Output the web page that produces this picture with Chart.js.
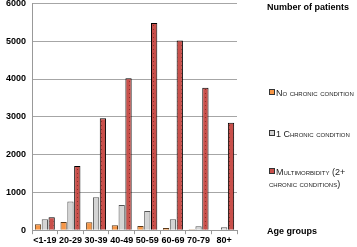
<!DOCTYPE html>
<html>
<head>
<meta charset="utf-8">
<script src="https://cdn.jsdelivr.net/npm/chart.js@4"></script>
<style>
  body { margin: 0; background: #fff; }
  #wrap { position: relative; width: 357px; height: 247px; overflow: hidden; font-family: Arial, "Liberation Sans", sans-serif; }
  #chart { position: absolute; left: 0; top: -8px; }
  .ttl { position: absolute; left: 267px; font-weight: bold; font-size: 9px; color: #000; }
  .leg { position: absolute; left: 269px; font-size: 9px; font-variant: small-caps; color: #222; line-height: 12px; width: 88px; }
  .leg span.sw { display: inline-block; width: 4px; height: 4px; border: 1px solid #333; margin-right: 1px; vertical-align: 1px; }
</style>
</head>
<body>
<div id="wrap">
  <canvas id="chart" width="357" height="255"></canvas>
  <div class="ttl" style="top:2px">Number of patients</div>
  <div class="ttl" style="top:226px">Age groups</div>
  <div id="legend"></div>
</div>
<script>
// age groups and patient counts
const ageGroups = ['<1-19', '20-29', '30-39', '40-49', '50-59', '60-69', '70-79', '80+'];
const noChronic = [160, 220, 210, 130, 110, 55, 25, 10];
const oneChronic = [290, 760, 870, 665, 505, 290, 105, 80];
const multimorbidity = [340, 1700, 2960, 4020, 5480, 5020, 3770, 2840];
const seriesNames = ['No chronic condition', '1 Chronic condition', 'Multimorbidity (2+ chronic conditions)'];
const yTicks = [0, 1000, 2000, 3000, 4000, 5000, 6000];
const legendTops = [87, 128, 166];

// dotted red fill like the original
function redPattern() {
    let c = document.createElement('canvas');
    c.width = 4; c.height = 4;
    let g = c.getContext('2d');
    g.fillStyle = '#c9504b';
    g.fillRect(0, 0, 4, 4);
    g.fillStyle = '#8e2f2b';
    g.fillRect(1, 1, 1, 1);
    return g.createPattern(c, 'repeat');
}

const colors = ['#f79646', '#d4d4d4', redPattern()];
const swatch = ['#f79646', '#d4d4d4', '#c9504b'];
const borders = ['#5a3a1a', '#555555', '#000000'];

let ctx = document.getElementById('chart').getContext('2d');
let mychart = new Chart(ctx, {
    type: 'bar',
    data: {
        labels: ageGroups,
        datasets: [{
            label: seriesNames[0],
            data: noChronic,
            backgroundColor: colors[0],
            borderColor: borders[0],
            borderWidth: 1
        }, {
            label: seriesNames[1],
            data: oneChronic,
            backgroundColor: colors[1],
            borderColor: borders[1],
            borderWidth: 1
        }, {
            label: seriesNames[2],
            data: multimorbidity,
            backgroundColor: colors[2],
            borderColor: borders[2],
            borderWidth: 1
        }]
    },
    options: {
        responsive: false,
        animation: false,
        layout: { padding: { left: 0, right: 120, top: 0, bottom: 0 } },
        datasets: { bar: { categoryPercentage: 0.8, barPercentage: 0.92 } },
        plugins: { legend: { display: false }, tooltip: { enabled: false } },
        scales: {
            x: {
                grid: { drawOnChartArea: false, color: '#999', tickLength: 4 },
                border: { color: '#999' },
                ticks: {
                    color: '#000', autoSkip: false, maxRotation: 0,
                    font: { family: 'Arial', size: 9, weight: 'bold' }, padding: 1
                }
            },
            y: {
                min: 0, max: 6000,
                afterBuildTicks: axis => { axis.ticks = yTicks.map(v => ({ value: v })); },
                grid: { color: '#a6a6a6', drawTicks: false },
                border: { color: '#999' },
                ticks: {
                    color: '#000', padding: 6,
                    callback: v => String(v),
                    font: { family: 'Arial', size: 9, weight: 'bold' }
                }
            }
        }
    }
});

// legend on the right
let legendEl = document.getElementById('legend');
seriesNames.forEach((name, i) => {
    let d = document.createElement('div');
    d.className = 'leg';
    d.style.top = legendTops[i] + 'px';
    if (i < 2) d.style.whiteSpace = 'nowrap';
    d.innerHTML = '<span class="sw" style="background:' + swatch[i] + '"></span>';
    d.appendChild(document.createTextNode(name));
    legendEl.appendChild(d);
});
</script>
</body>
</html>
